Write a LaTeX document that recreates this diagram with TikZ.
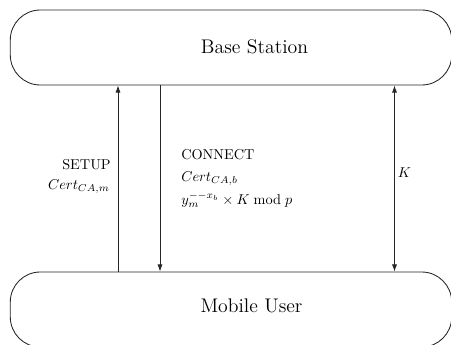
\documentclass[tikz,border=0pt]{standalone}
\usetikzlibrary{arrows.meta}
\begin{document}
\begin{tikzpicture}[x=0.7pt,y=-0.7pt,
  box/.style={draw=black!85, line width=0.6pt, rounded corners=21pt, minimum width=309pt, minimum height=52.5pt, inner sep=0pt},
  big/.style={font=\fontsize{13.8}{16}\selectfont, inner sep=0pt},
  lbl/.style={font=\fontsize{10}{12}\selectfont, inner sep=0pt},
  msg/.style={line width=0.6pt, draw=black!85, -{Latex[length=5pt,width=3.6pt]}},
  dmsg/.style={line width=0.6pt, draw=black!85, {Latex[length=5pt,width=3.6pt]}-{Latex[length=5pt,width=3.6pt]}},
]
\useasboundingbox (0,0) rectangle (451,344);
\node[box] (bs) at (231,47.5) {};
\node[box] (mu) at (231,309.5) {};
\node[big,anchor=base] (bst) at (254.5,53.5) {Base Station};
\node[big,anchor=base] (mut) at (251.5,312) {Mobile User};
\coordinate (a1) at (118,0);
\coordinate (a2) at (160,0);
\coordinate (a3) at (394.5,0);
\draw[msg] (mu.north -| a1) -- (bs.south -| a1);
\draw[msg] (bs.south -| a2) -- (mu.north -| a2);
\draw[dmsg] (bs.south -| a3) -- (mu.north -| a3);
\node[lbl, anchor=base east] (setup) at (111,169) {SETUP};
\node[lbl, anchor=base east] (certm) at (110,189) {$Cert_{CA,m}$};
\node[lbl, anchor=base west] (conn) at (181,159) {CONNECT};
\node[lbl, anchor=base west] (certb) at (181,181) {$Cert_{CA,b}$};
\node[lbl, anchor=base west] (ym) at (181,204) {$y_m^{--x_b}\times K \bmod p$};
\node[lbl, anchor=base west] (k) at (397.5,177) {$K$};
\end{tikzpicture}
\end{document}
